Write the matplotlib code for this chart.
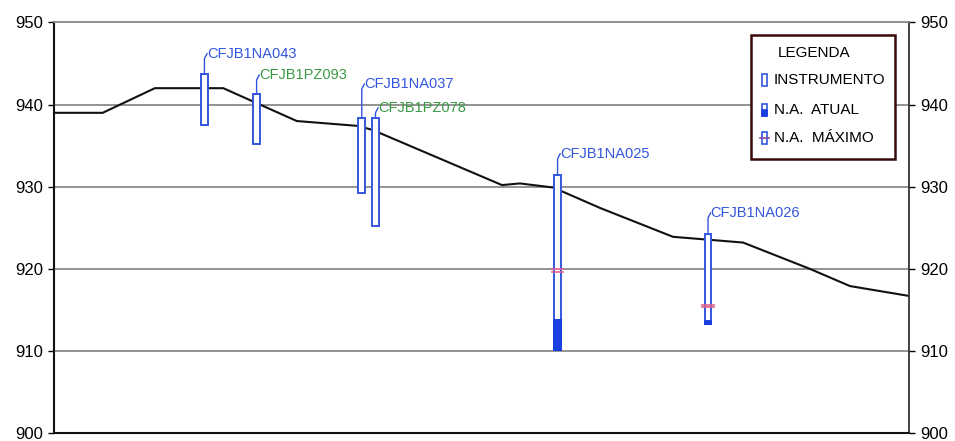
import numpy as np
import matplotlib
matplotlib.use("Agg")
import matplotlib.pyplot as plt
from matplotlib.patches import Rectangle

plt.rcParams['font.family'] = ['Liberation Sans', 'DejaVu Sans']

# Ground profile (distance along section, elevation)
ground_x = [0, 5.7, 11.8, 19.8, 28.4, 35.6, 37.3, 52.4, 54.5, 58.4, 63.9, 72.4, 80.6, 88.4, 93.1, 100]
ground_z = [939.0, 939.0, 942.0, 942.0, 938.0, 937.4, 936.9, 930.2, 930.4, 929.9,
            927.4, 923.9, 923.2, 920.0, 917.9, 916.7]

# Instruments
names = ['CFJB1NA043', 'CFJB1PZ093', 'CFJB1NA037', 'CFJB1PZ078', 'CFJB1NA025', 'CFJB1NA026']
inst_x = [17.6, 23.7, 36.0, 37.6, 58.9, 76.5]
inst_top = [943.7, 941.3, 938.4, 938.4, 931.4, 924.3]
inst_bottom = [937.5, 935.2, 929.2, 925.2, 910.1, 913.3]
level_now = [None, None, None, None, 913.8, 913.6]
level_max = [None, None, None, None, 919.8, 915.5]
label_z = [946.2, 943.6, 942.5, 939.6, 934.0, 926.8]

yticks = [900, 910, 920, 930, 940, 950]

blue = '#3356dd'
fill_blue = '#1a3fe0'
green = '#3a9a45'
pink = '#e0608f'

fig = plt.figure(figsize=(9.55, 4.41), dpi=100)
ax = fig.add_axes([0.0565, 0.018, 0.8953, 0.931])

# gridlines
for y in yticks[1:]:
    ax.axhline(y, color='#8a8a8a', lw=1.3, zorder=1)

# ground line
ax.plot(ground_x, ground_z, color='#111111', lw=1.5, zorder=2)

w = 0.8
for i in range(len(names)):
    xc = inst_x[i]
    # instrument tube
    ax.add_patch(Rectangle((xc - w / 2, inst_bottom[i]), w, inst_top[i] - inst_bottom[i],
                           facecolor='white', edgecolor=blue, lw=1.4, zorder=3))
    # current water level
    if level_now[i] is not None:
        ax.add_patch(Rectangle((xc - w / 2, inst_bottom[i]), w, level_now[i] - inst_bottom[i],
                               facecolor=fill_blue, edgecolor=fill_blue, lw=1.4, zorder=4))
    # max water level
    if level_max[i] is not None:
        for dy in (-0.15, 0.15):
            ax.plot([xc - w * 0.85, xc + w * 0.85], [level_max[i] + dy] * 2,
                    color=pink, lw=1.2, zorder=5)
    # leader and label
    col = green if 'PZ' in names[i] else blue
    ax.plot([xc, xc, xc + 0.3], [inst_top[i], label_z[i] - 0.6, label_z[i]],
            color=blue, lw=1.0, zorder=3)
    ax.text(xc + 0.3, label_z[i], names[i], color=col, fontsize=10.5,
            va='center', ha='left', zorder=6)

ax.set_xlim(0, 100)
ax.set_ylim(900, 950)
ax.set_xticks([])
ax.set_yticks(yticks)
ax.tick_params(axis='y', left=True, right=True, labelleft=True, labelright=True,
               direction='out', length=4, width=1, labelsize=12, pad=4)
for s in ['left', 'bottom']:
    ax.spines[s].set_color('#111111')
    ax.spines[s].set_linewidth(1.5)
ax.spines['right'].set_color('#333333')
ax.spines['right'].set_linewidth(1.3)
ax.spines['top'].set_color('#8a8a8a')
ax.spines['top'].set_linewidth(1.3)

# legend box (drawn by hand, figure pixel coords)
W, H = 955.0, 441.0
def fx(px):
    return px / W
def fy(py):
    return 1 - py / H

fig.patches.append(Rectangle((fx(751), fy(159)), fx(895) - fx(751), fy(35) - fy(159),
                             transform=fig.transFigure, facecolor='white',
                             edgecolor='#3a0a0a', lw=1.8, zorder=10))
fig.text(fx(778), fy(53), 'LEGENDA', fontsize=11, va='center', ha='left', zorder=11)
entries = ['INSTRUMENTO', 'N.A.  ATUAL', 'N.A.  MÁXIMO']
entry_y = [80, 110, 138]
for txt, py in zip(entries, entry_y):
    fig.text(fx(774), fy(py), txt, fontsize=11, va='center', ha='left', zorder=11)
    fig.patches.append(Rectangle((fx(762), fy(py + 6)), fx(767) - fx(762), fy(py - 6) - fy(py + 6),
                                 transform=fig.transFigure, facecolor='white',
                                 edgecolor=blue, lw=1.2, zorder=11))
# filled part for N.A. ATUAL
fig.patches.append(Rectangle((fx(762), fy(110 + 6)), fx(767) - fx(762), fy(110) - fy(116),
                             transform=fig.transFigure, facecolor=fill_blue,
                             edgecolor=fill_blue, lw=1.2, zorder=12))
# max marker for N.A. MAXIMO
fig.lines.append(plt.Line2D([fx(760), fx(769)], [fy(138), fy(138)],
                            transform=fig.transFigure, color='#8a4a9a', lw=1.2, zorder=12))

fig.savefig('out.png', dpi=100)
